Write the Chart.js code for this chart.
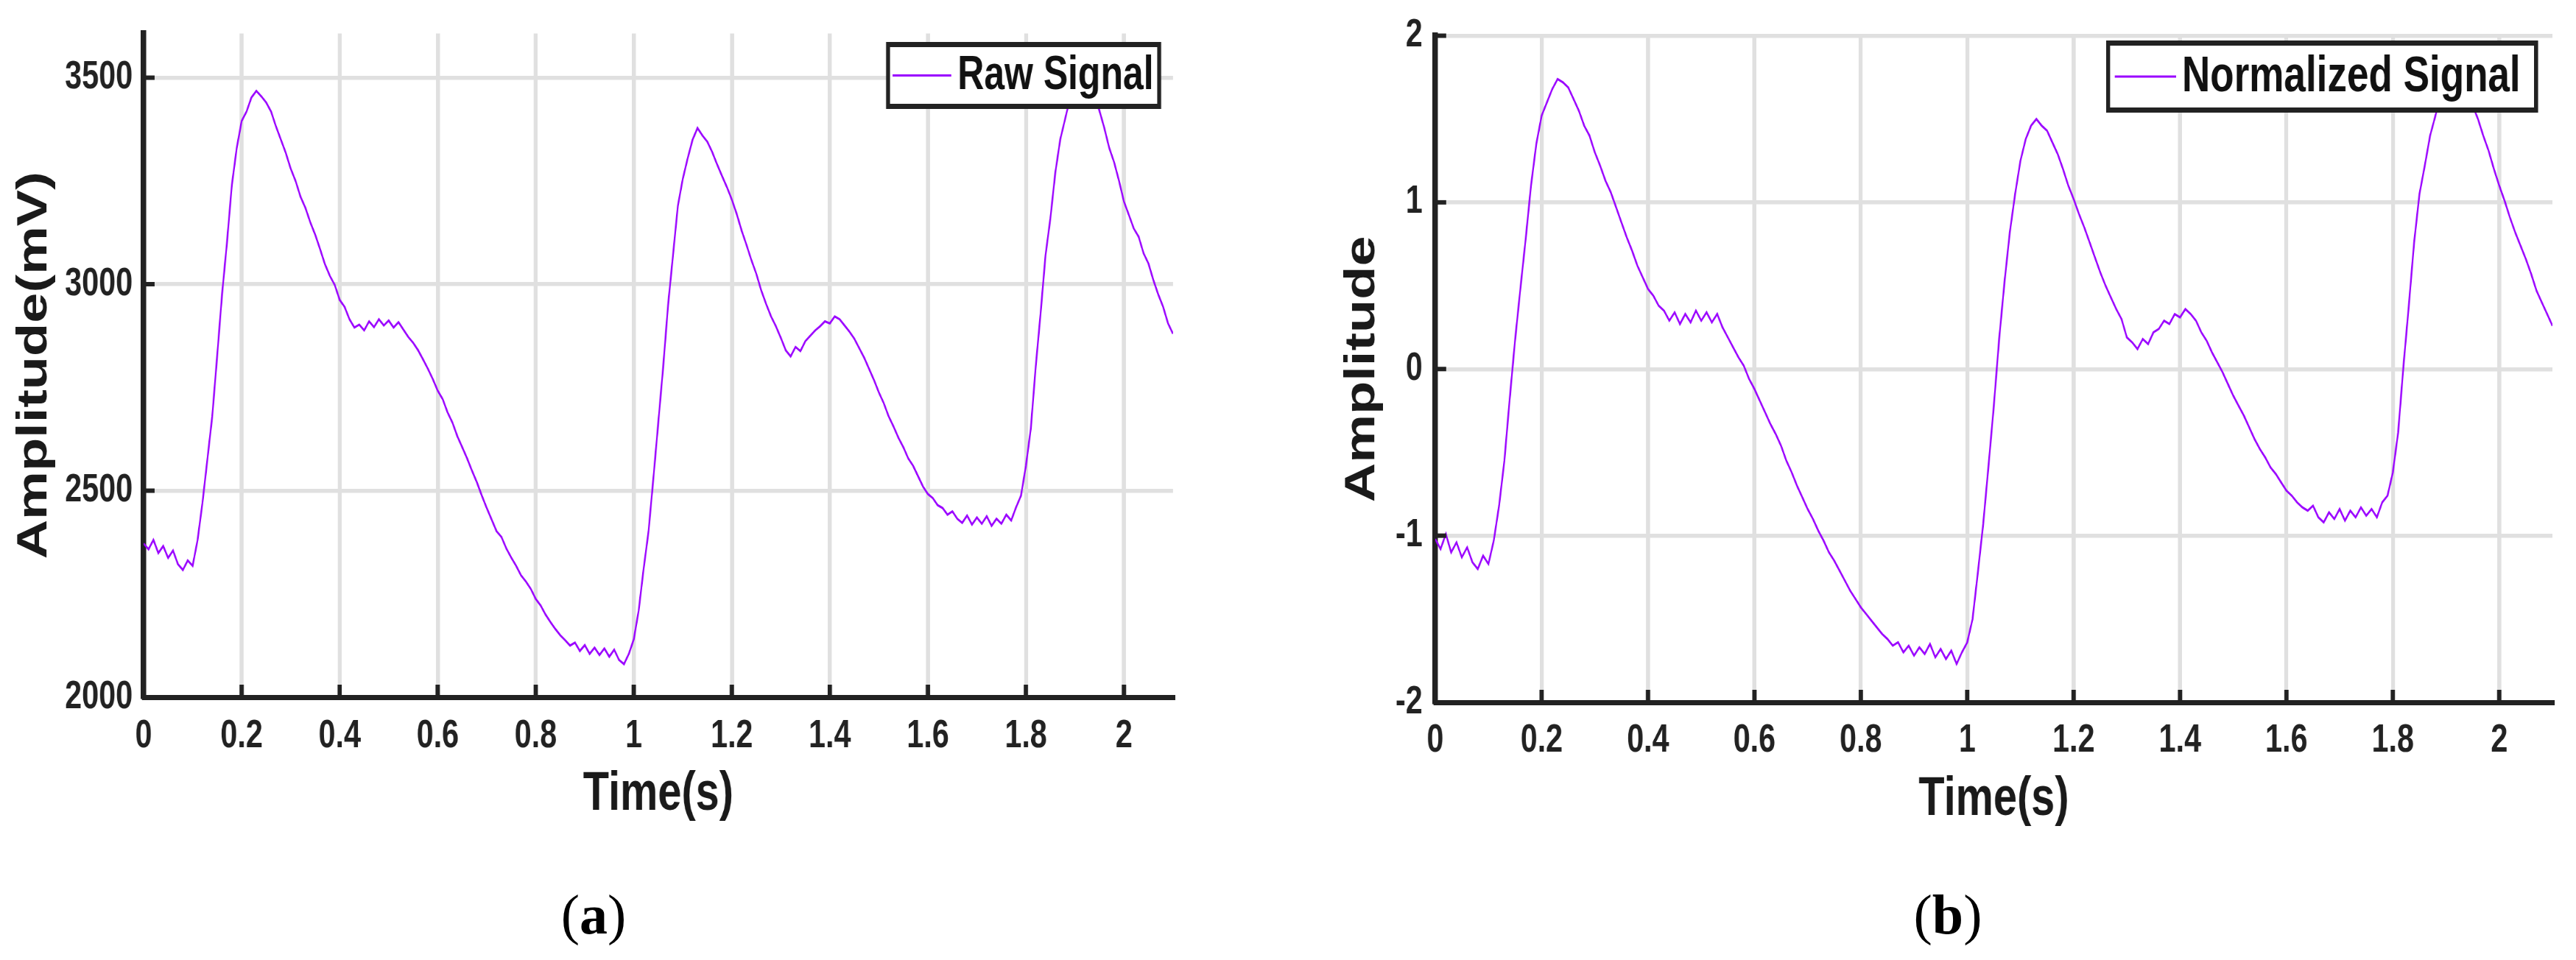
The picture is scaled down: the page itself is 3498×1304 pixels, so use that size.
<!DOCTYPE html>
<html>
<head>
<meta charset="utf-8">
<script src="https://cdn.jsdelivr.net/npm/chart.js@4.4.1/dist/chart.umd.min.js"></script>
<style>
  html, body { margin: 0; padding: 0; background: #fff; }
  body { width: 3498px; height: 1304px; position: relative; overflow: hidden; }
  .wrap { position: absolute; top: 0; height: 1304px; }
  #wrapA { left: 0; width: 1750px; }
  #wrapB { left: 1750px; width: 1748px; }
  canvas { display: block; transform: scaleX(0.78); transform-origin: 0 0; }
  .cap { position: absolute; width: 200px; text-align: center; font-family: 'Liberation Serif', 'Times New Roman', serif; font-size: 76px; line-height: 76px; color: #000; top: 1204px; }
  #capA { left: 706px; }
  #capB { left: 2545px; }
</style>
</head>
<body>
<div class="wrap" id="wrapA"><canvas id="chartA" width="2244" height="1304"></canvas></div>
<div class="wrap" id="wrapB"><canvas id="chartB" width="2241" height="1304"></canvas></div>
<div class="cap" id="capA">(<b>a</b>)</div>
<div class="cap" id="capB">(<b>b</b>)</div>
<script>
// ---------------- DATA (0.01 s sampling) ----------------
const sampleStep = 0.01; // seconds between samples

const rawSignal = [
  2372, 2358, 2381, 2349, 2366, 2337, 2355, 2322, 2308, 2331,
  2318, 2380, 2470, 2575, 2680, 2825, 2975, 3100, 3240, 3330,
  3395, 3418, 3452, 3468, 3455, 3440, 3418, 3382, 3350, 3318,
  3280, 3250, 3212, 3185, 3150, 3120, 3085, 3048, 3020, 2998,
  2962, 2945, 2915, 2895, 2902, 2888, 2910, 2896, 2915, 2900,
  2912, 2895, 2908, 2890, 2872, 2858, 2840, 2818, 2795, 2770,
  2742, 2722, 2690, 2665, 2632, 2605, 2578, 2548, 2520, 2488,
  2458, 2430, 2402, 2388, 2360, 2338, 2318, 2295, 2280, 2262,
  2238, 2222, 2200, 2182, 2165, 2150, 2138, 2125, 2132, 2112,
  2126, 2105, 2120, 2102, 2118, 2098, 2115, 2090, 2080, 2105,
  2140, 2210, 2310, 2400, 2530, 2665, 2800, 2950, 3070, 3190,
  3255, 3305, 3350, 3378, 3360, 3345, 3320, 3290, 3262, 3235,
  3205, 3170, 3130, 3095, 3058, 3025, 2985, 2952, 2922, 2898,
  2870, 2840, 2825, 2848, 2838, 2862, 2875, 2888, 2898, 2910,
  2905, 2922, 2915, 2900, 2885, 2868, 2845, 2822, 2795, 2768,
  2738, 2712, 2680, 2655, 2628, 2605, 2578, 2560, 2535, 2510,
  2492, 2482, 2465, 2458, 2442, 2450, 2432, 2422, 2440, 2418,
  2435, 2420, 2438, 2415, 2432, 2420, 2442, 2428, 2460, 2488,
  2560, 2650, 2800, 2930, 3070, 3160, 3270, 3350, 3400, 3450,
  3485, 3510, 3520, 3500, 3455, 3420, 3378, 3330, 3295, 3250,
  3200, 3168, 3135, 3115, 3075, 3050, 3010, 2975, 2945, 2905,
  2880
];

const normalizedSignal = [
  -1.02, -1.08, -0.99, -1.10, -1.04, -1.13, -1.07, -1.16, -1.20, -1.12,
  -1.17, -1.03, -0.82, -0.55, -0.18, 0.17, 0.48, 0.78, 1.10, 1.35,
  1.52, 1.60, 1.68, 1.74, 1.72, 1.69, 1.62, 1.55, 1.46, 1.40,
  1.30, 1.22, 1.13, 1.06, 0.97, 0.88, 0.79, 0.71, 0.62, 0.55,
  0.48, 0.44, 0.38, 0.35, 0.29, 0.34, 0.27, 0.33, 0.28, 0.35,
  0.29, 0.34, 0.28, 0.33, 0.25, 0.19, 0.13, 0.07, 0.02, -0.06,
  -0.12, -0.19, -0.26, -0.33, -0.39, -0.46, -0.55, -0.62, -0.70, -0.77,
  -0.84, -0.90, -0.97, -1.03, -1.10, -1.15, -1.21, -1.27, -1.33, -1.38,
  -1.43, -1.47, -1.51, -1.55, -1.59, -1.62, -1.66, -1.64, -1.70, -1.66,
  -1.72, -1.67, -1.71, -1.65, -1.73, -1.68, -1.74, -1.69, -1.77, -1.70,
  -1.64, -1.50, -1.22, -0.93, -0.58, -0.22, 0.18, 0.52, 0.82, 1.05,
  1.25, 1.38, 1.46, 1.50, 1.46, 1.43, 1.36, 1.29, 1.20, 1.10,
  1.02, 0.93, 0.85, 0.76, 0.67, 0.58, 0.50, 0.43, 0.36, 0.30,
  0.19, 0.16, 0.12, 0.18, 0.15, 0.22, 0.24, 0.29, 0.27, 0.33,
  0.31, 0.36, 0.33, 0.29, 0.22, 0.17, 0.10, 0.04, -0.02, -0.09,
  -0.16, -0.22, -0.28, -0.35, -0.42, -0.48, -0.53, -0.59, -0.63, -0.68,
  -0.73, -0.76, -0.80, -0.83, -0.85, -0.82, -0.89, -0.92, -0.86, -0.90,
  -0.84, -0.91, -0.85, -0.89, -0.83, -0.88, -0.84, -0.89, -0.80, -0.76,
  -0.62, -0.38, 0.02, 0.38, 0.76, 1.05, 1.22, 1.40, 1.52, 1.64,
  1.72, 1.86, 1.93, 1.78, 1.68, 1.58, 1.50, 1.40, 1.31, 1.20,
  1.10, 1.01, 0.91, 0.82, 0.74, 0.66, 0.57, 0.47, 0.40, 0.33,
  0.26
];

const xTickValues = [0, 0.2, 0.4, 0.6, 0.8, 1, 1.2, 1.4, 1.6, 1.8, 2];
const xTickLabels = ['0', '0.2', '0.4', '0.6', '0.8', '1', '1.2', '1.4', '1.6', '1.8', '2'];
const yTickValuesRaw = [2000, 2500, 3000, 3500];
const yTickLabelsRaw = ['2000', '2500', '3000', '3500'];
const yTickValuesNorm = [-2, -1, 0, 1, 2];
const yTickLabelsNorm = ['-2', '-1', '0', '1', '2'];
const seriesLabels = ['Raw Signal', 'Normalized Signal'];
const axisTitles = { x: 'Time(s)', yRaw: 'Amplitude(mV)', yNorm: 'Amplitude' };

// ---------------- STYLE ----------------
const LINE_COLOR = '#9a00ff';
const AXIS_COLOR = '#222222';
const GRID_COLOR = '#e0e0e0';
const FONT = "'Liberation Sans', Arial, sans-serif";

function toPoints(values) {
  return values.map((v, i) => ({ x: Math.round(i * sampleStep * 100) / 100, y: v }));
}

const decor = {
  id: 'decor',
  afterDraw(chart, args, opts) {
    const ctx = chart.ctx;
    const xs = chart.scales.x, ys = chart.scales.y, area = chart.chartArea;
    ctx.save();
    ctx.strokeStyle = AXIS_COLOR;
    ctx.lineWidth = 7.5;
    xs.ticks.forEach(t => {
      const px = xs.getPixelForValue(t.value);
      ctx.beginPath(); ctx.moveTo(px, area.bottom); ctx.lineTo(px, area.bottom - 17); ctx.stroke();
    });
    ctx.lineWidth = 6;
    ys.ticks.forEach(t => {
      const py = ys.getPixelForValue(t.value);
      ctx.beginPath(); ctx.moveTo(area.left, py); ctx.lineTo(area.left + 19, py); ctx.stroke();
    });
    // legend box
    const L = opts.box;
    ctx.fillStyle = '#ffffff';
    ctx.fillRect(L.x, L.y, L.w, L.h);
    ctx.lineWidth = 7;
    ctx.strokeStyle = AXIS_COLOR;
    ctx.strokeRect(L.x, L.y, L.w, L.h);
    const ds = chart.data.datasets[0];
    const midY = L.y + L.h / 2;
    ctx.strokeStyle = ds.borderColor;
    ctx.lineWidth = 3;
    ctx.beginPath(); ctx.moveTo(L.lineX0, midY); ctx.lineTo(L.lineX1, midY); ctx.stroke();
    ctx.fillStyle = '#111111';
    ctx.font = 'bold ' + L.fontSize + 'px ' + FONT;
    ctx.textBaseline = 'middle';
    ctx.textAlign = 'left';
    ctx.fillText(ds.label, L.textX, midY + 1);
    ctx.restore();
  }
};

function makeChart(id, cfg) {
  const tickFont = { family: FONT, size: 53, weight: 'bold', lineHeight: 1 };
  return new Chart(document.getElementById(id), {
    type: 'line',
    data: {
      datasets: [{
        label: cfg.label,
        data: toPoints(cfg.values),
        borderColor: LINE_COLOR,
        borderWidth: 3,
        pointRadius: 0,
        tension: 0,
        fill: false
      }]
    },
    options: {
      responsive: false,
      animation: false,
      devicePixelRatio: 1,
      layout: { padding: cfg.padding },
      plugins: {
        legend: { display: false },
        tooltip: { enabled: false },
        decor: { box: cfg.box }
      },
      scales: {
        x: {
          type: 'linear',
          min: 0,
          max: 2.1,
          afterBuildTicks: s => { s.ticks = xTickValues.map(v => ({ value: v })); },
          afterFit: s => { s.height = cfg.xHeight; },
          ticks: {
            autoSkip: false,
            maxRotation: 0,
            padding: cfg.xTickPad,
            color: AXIS_COLOR,
            font: tickFont,
            callback: (v, i) => xTickLabels[i]
          },
          grid: { color: GRID_COLOR, lineWidth: 7, drawTicks: false },
          border: { display: true, color: AXIS_COLOR, width: 7 },
          title: {
            display: true,
            text: axisTitles.x,
            color: '#1a1a1a',
            font: { family: FONT, size: 74, weight: 'bold', lineHeight: 1 },
            padding: { top: 0, bottom: cfg.xTitlePad }
          }
        },
        y: {
          type: 'linear',
          min: cfg.yMin,
          max: cfg.yMax,
          afterBuildTicks: s => { s.ticks = cfg.yTicks.map(v => ({ value: v })); },
          afterFit: s => { s.width = cfg.yWidth; },
          ticks: {
            autoSkip: false,
            padding: cfg.yTickPad,
            color: AXIS_COLOR,
            font: tickFont,
            callback: (v, i) => cfg.yLabels[i]
          },
          grid: { color: GRID_COLOR, lineWidth: 5.5, drawTicks: false },
          border: { display: true, color: AXIS_COLOR, width: 9.5 },
          title: {
            display: true,
            text: cfg.yTitle,
            color: '#1a1a1a',
            font: { family: FONT, size: 74, weight: 'bold', lineHeight: 1 },
            padding: { top: cfg.yTitlePad, bottom: 0 }
          }
        }
      }
    },
    plugins: [decor]
  });
}

makeChart('chartA', {
  label: seriesLabels[0],
  values: rawSignal,
  yMin: 2000, yMax: 3607,
  yTicks: yTickValuesRaw, yLabels: yTickLabelsRaw,
  yTitle: axisTitles.yRaw,
  padding: { left: 0, top: 28, right: 202, bottom: 0 },
  yWidth: 250, xHeight: 357,
  xTickPad: 27, xTitlePad: 187, yTitlePad: 24, yTickPad: 19,
  box: { x: 1546, y: 60.5, w: 472, h: 84, lineX0: 1554, lineX1: 1656, textX: 1667, fontSize: 64 }
});

makeChart('chartB', {
  label: seriesLabels[1],
  values: normalizedSignal,
  yMin: -2, yMax: 2,
  yTicks: yTickValuesNorm, yLabels: yTickLabelsNorm,
  yTitle: axisTitles.yNorm,
  padding: { left: 0, top: 32, right: 41, bottom: 0 },
  yWidth: 255, xHeight: 350,
  xTickPad: 26, xTitlePad: 180, yTitlePad: 92, yTickPad: 22,
  box: { x: 1426.5, y: 58.5, w: 745, h: 91, lineX0: 1438, lineX1: 1545, textX: 1555, fontSize: 68 }
});
</script>
</body>
</html>
